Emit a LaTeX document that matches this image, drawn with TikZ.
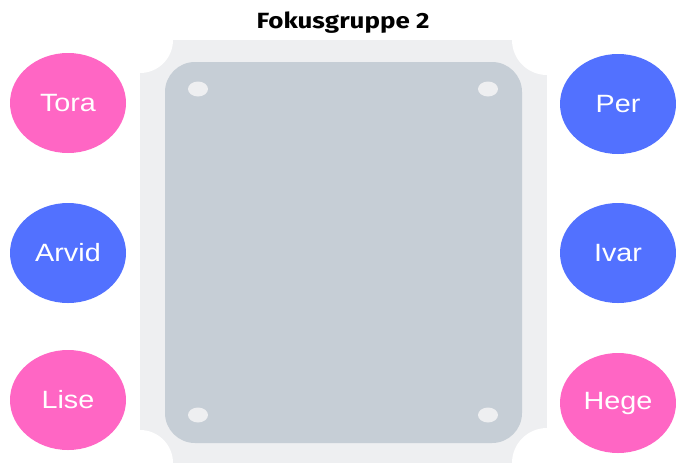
\documentclass[tikz,border=0pt]{standalone}
\usepackage{fontspec}
\setmainfont{Liberation Sans}
\newfontfamily\titlefont[FakeStretch=1.18]{Fira Sans}
\newfontfamily\namefont[FakeStretch=1.15]{Liberation Sans}
\usetikzlibrary{shapes.geometric}
\definecolor{pinkc}{HTML}{FF66C4}
\definecolor{bluec}{HTML}{5271FF}
\definecolor{outerg}{HTML}{EEEFF1}
\definecolor{innerg}{HTML}{C6CED6}
\tikzset{
  person/.style={ellipse, minimum width=116pt, minimum height=100pt, inner sep=0pt,
    text=white, font=\namefont\fontsize{25}{25}\selectfont},
  female/.style={person, fill=pinkc},
  male/.style={person, fill=bluec},
  hole/.style={ellipse, fill=outerg, minimum width=20pt, minimum height=15pt, inner sep=0pt},
}
\begin{document}
\begin{tikzpicture}[x=1pt,y=-1pt]
\useasboundingbox[fill=white] (0,0) rectangle (676,466);
% table outer frame with concave corners
\fill[outerg] (140,40) rectangle (547,463);
\fill[white] (140,40) circle[radius=33];
\fill[white] (547,40) circle[radius=35];
\fill[white] (140,463) circle[radius=33];
\fill[white] (547,463) circle[radius=35];
% table top
\fill[innerg, rounded corners=30pt] (165,62) rectangle (522,443);
\node[hole] (h1) at (198,89) {};
\node[hole] (h2) at (488,89) {};
\node[hole] (h3) at (198,415) {};
\node[hole] (h4) at (488,415) {};
% title
\node[font=\titlefont\bfseries\fontsize{22}{22}\selectfont] (title) at (343,23) {Fokusgruppe 2};
% people
\node[female] (tora) at (68,103) {Tora};
\node[male] (arvid) at (68,253) {Arvid};
\node[female] (lise) at (68,400) {Lise};
\node[male] (per) at (618,104) {Per};
\node[male] (ivar) at (618,253) {Ivar};
\node[female] (hege) at (618,403) {Hege};
\end{tikzpicture}
\end{document}
